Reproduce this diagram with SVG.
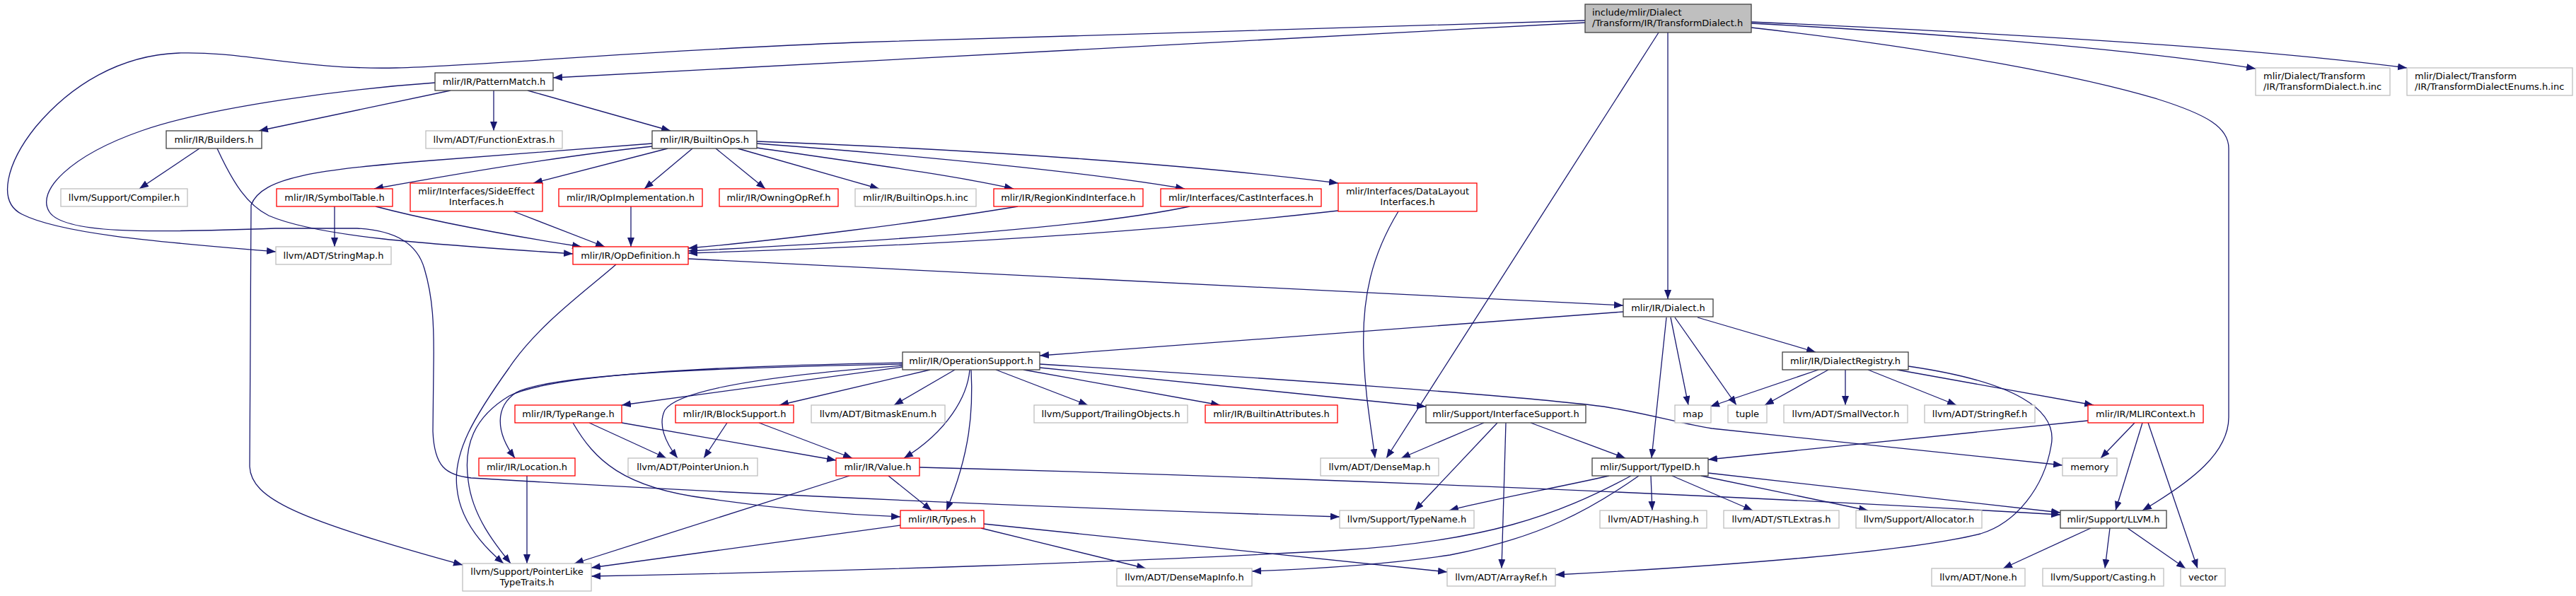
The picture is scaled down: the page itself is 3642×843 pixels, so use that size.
<svg xmlns="http://www.w3.org/2000/svg" width="3642" height="843" viewBox="0 0 3642 843">
<style>
rect{stroke-width:1.3}
.g rect{fill:#fff;stroke:#bfbfbf}
.b rect{fill:#fff;stroke:#404040}
.r rect{fill:#fff;stroke:#ff0000}
.t rect{fill:#bfbfbf;stroke:#404040}
text{font-family:"DejaVu Sans","Liberation Sans",sans-serif;font-size:13px;fill:#000;text-anchor:middle}
text.l{text-anchor:start}
#edges path{fill:none;stroke:#191970;stroke-width:1.3;marker-end:url(#a)}
</style>
<defs>
<marker id="a" markerUnits="userSpaceOnUse" markerWidth="14" markerHeight="11" refX="13" refY="5" orient="auto">
<path d="M0,0 L13,5 L0,10 z" fill="#191970"/>
</marker>
</defs>
<rect width="3642" height="843" fill="#fff"/>
<g id="edges">
<path d="M2241,32 L782,110"/>
<path d="M2241,29 L1210,60 C900,72 700,92 560,96 C430,99 340,72 253,75 C170,78 100,120 50,180 C10,230 -5,285 31,303 C90,333 250,344 390,356"/>
<path d="M2345,46 L1960,648"/>
<path d="M2358,46 L2358,423"/>
<path d="M2476,33 C2800,50 3050,75 3189,97"/>
<path d="M2476,31 C2900,50 3200,70 3403,96"/>
<path d="M2476,39 C2750,70 2950,110 3050,140 C3120,162 3151,180 3151,210 L3151,590 C3151,640 3100,680 3029,722"/>
<path d="M637,128 L366,185"/>
<path d="M698,128 L698,185"/>
<path d="M746,128 L948,185"/>
<path d="M615,117 C500,125 300,150 200,185 C100,220 50,270 70,300 C90,330 200,330 389,323 L505,323 C560,326 590,345 600,380 C612,420 614,460 613,520 L612,610 C614,660 630,672 666,676 C900,690 1300,712 1894,731"/>
<path d="M282,210 L197,267"/>
<path d="M307,210 C330,260 350,290 380,305 C450,335 600,345 810,359"/>
<path d="M922,203 L610,227 C450,240 370,250 355,290 L353,660 C355,705 420,735 654,799"/>
<path d="M922,207 C800,220 650,245 529,267"/>
<path d="M944,210 L754,259"/>
<path d="M979,210 L911,267"/>
<path d="M1012,210 L1082,267"/>
<path d="M1043,210 L1243,267"/>
<path d="M1070,209 C1200,228 1350,248 1433,267"/>
<path d="M1070,203 C1300,220 1550,245 1675,267"/>
<path d="M1070,200 C1400,212 1700,235 1892,259"/>
<path d="M726,299 L855,349"/>
<path d="M892,292 L892,349"/>
<path d="M531,292 C600,310 700,330 822,349"/>
<path d="M473,292 L473,349"/>
<path d="M1439,292 C1300,315 1100,340 973,351"/>
<path d="M1682,292 C1550,320 1300,338 973,355"/>
<path d="M1892,298 C1700,320 1400,345 973,358"/>
<path d="M1977,299 C1940,360 1925,420 1928,500 C1930,560 1938,600 1944,648"/>
<path d="M973,366 L2295,432"/>
<path d="M871,374 C830,410 760,460 720,520 C670,590 640,640 646,690 C650,735 680,770 712,797"/>
<path d="M1276,513 C1000,518 780,530 720,560 C670,590 655,630 662,680 C668,730 700,770 722,797"/>
<path d="M1276,515 C1000,520 780,530 730,555 C700,575 700,610 728,648"/>
<path d="M1276,519 L879,573"/>
<path d="M1276,517 C1100,530 960,550 940,580 C930,600 940,625 958,648"/>
<path d="M1315,523 L1102,573"/>
<path d="M1350,523 L1264,573"/>
<path d="M1371,523 C1368,560 1340,610 1278,648"/>
<path d="M1373,523 C1376,580 1372,640 1338,722"/>
<path d="M1408,523 L1538,573"/>
<path d="M1447,523 L1725,573"/>
<path d="M1470,520 L2016,575"/>
<path d="M1470,515 C1800,535 2150,560 2267,575 C2330,585 2380,600 2420,606 L2916,658"/>
<path d="M2295,441 L1470,503"/>
<path d="M2356,449 L2335,648"/>
<path d="M2362,449 L2387,573"/>
<path d="M2368,449 L2455,573"/>
<path d="M2400,449 L2567,498"/>
<path d="M2571,523 L2418,575"/>
<path d="M2585,523 L2495,573"/>
<path d="M2609,523 L2609,573"/>
<path d="M2641,523 L2766,573"/>
<path d="M2682,523 L2960,573"/>
<path d="M2698,518 C2850,540 2910,580 2900,630 C2890,690 2850,740 2800,755 C2700,780 2450,800 2199,813"/>
<path d="M2952,595 L2415,650"/>
<path d="M3018,598 L2970,648"/>
<path d="M3029,598 L2991,722"/>
<path d="M3037,598 L3107,804"/>
<path d="M2275,673 C2200,690 2100,708 2049,722"/>
<path d="M2334,673 L2336,722"/>
<path d="M2364,673 L2478,722"/>
<path d="M2405,673 L2641,722"/>
<path d="M2415,669 L2913,725"/>
<path d="M2317,673 C2250,720 2180,760 2050,785 C1950,800 1850,805 1770,808"/>
<path d="M2306,673 C2200,730 2100,765 1900,778 C1600,795 1200,808 836,815"/>
<path d="M1391,741 L2046,809"/>
<path d="M1387,747 L1620,804"/>
<path d="M1273,743 L836,803"/>
<path d="M1256,673 L1317,722"/>
<path d="M1201,673 L812,797"/>
<path d="M1300,661 C1800,674 2400,698 2913,728"/>
<path d="M833,598 L942,648"/>
<path d="M810,598 C840,650 880,690 1000,705 C1100,720 1200,728 1273,731"/>
<path d="M879,598 L1182,651"/>
<path d="M1028,598 L995,648"/>
<path d="M1073,598 L1205,648"/>
<path d="M745,673 L745,797"/>
<path d="M2098,598 L1981,648"/>
<path d="M2117,598 L2000,722"/>
<path d="M2129,598 L2123,804"/>
<path d="M2164,598 L2298,648"/>
<path d="M2956,747 L2832,804"/>
<path d="M2983,747 L2976,804"/>
<path d="M3008,747 L3090,804"/>
</g>
<g id="n_top" class="t"><rect x="2241" y="6" width="235" height="40"/><text class="l" x="2251" y="22">include/mlir/Dialect</text><text class="l" x="2251" y="37">/Transform/IR/TransformDialect.h</text></g>
<g id="n_pm" class="b"><rect x="615" y="103" width="167" height="25"/><text x="698.5" y="120">mlir/IR/PatternMatch.h</text></g>
<g id="n_bld" class="b"><rect x="235" y="185" width="135" height="25"/><text x="302.5" y="202">mlir/IR/Builders.h</text></g>
<g id="n_fe" class="g"><rect x="602" y="185" width="193" height="25"/><text x="698.5" y="202">llvm/ADT/FunctionExtras.h</text></g>
<g id="n_bo" class="b"><rect x="922" y="185" width="148" height="25"/><text x="996" y="202">mlir/IR/BuiltinOps.h</text></g>
<g id="n_cmp" class="g"><rect x="86" y="267" width="179" height="25"/><text x="175.5" y="284">llvm/Support/Compiler.h</text></g>
<g id="n_st" class="r"><rect x="391" y="267" width="164" height="25"/><text x="473" y="284">mlir/IR/SymbolTable.h</text></g>
<g id="n_se" class="r"><rect x="580" y="259" width="187" height="40"/><text x="673.5" y="275">mlir/Interfaces/SideEffect</text><text x="673.5" y="290">Interfaces.h</text></g>
<g id="n_oi" class="r"><rect x="790" y="267" width="203" height="25"/><text x="891.5" y="284">mlir/IR/OpImplementation.h</text></g>
<g id="n_oor" class="r"><rect x="1017" y="267" width="168" height="25"/><text x="1101" y="284">mlir/IR/OwningOpRef.h</text></g>
<g id="n_boi" class="g"><rect x="1209" y="267" width="171" height="25"/><text x="1294.5" y="284">mlir/IR/BuiltinOps.h.inc</text></g>
<g id="n_rki" class="r"><rect x="1405" y="267" width="211" height="25"/><text x="1510.5" y="284">mlir/IR/RegionKindInterface.h</text></g>
<g id="n_ci" class="r"><rect x="1641" y="267" width="227" height="25"/><text x="1754.5" y="284">mlir/Interfaces/CastInterfaces.h</text></g>
<g id="n_dl" class="r"><rect x="1892" y="259" width="196" height="40"/><text x="1990" y="275">mlir/Interfaces/DataLayout</text><text x="1990" y="290">Interfaces.h</text></g>
<g id="n_sm" class="g"><rect x="390" y="349" width="163" height="25"/><text x="471.5" y="366">llvm/ADT/StringMap.h</text></g>
<g id="n_od" class="r"><rect x="810" y="349" width="163" height="25"/><text x="891.5" y="366">mlir/IR/OpDefinition.h</text></g>
<g id="n_tdinc" class="g"><rect x="3189" y="96" width="190" height="39"/><text class="l" x="3200" y="112">mlir/Dialect/Transform</text><text class="l" x="3200" y="127">/IR/TransformDialect.h.inc</text></g>
<g id="n_tde" class="g"><rect x="3403" y="96" width="234" height="39"/><text class="l" x="3414" y="112">mlir/Dialect/Transform</text><text class="l" x="3414" y="127">/IR/TransformDialectEnums.h.inc</text></g>
<g id="n_di" class="b"><rect x="2295" y="423" width="127" height="25"/><text x="2358.5" y="440">mlir/IR/Dialect.h</text></g>
<g id="n_os" class="b"><rect x="1276" y="498" width="194" height="25"/><text x="1373" y="515">mlir/IR/OperationSupport.h</text></g>
<g id="n_dr" class="b"><rect x="2520" y="498" width="178" height="25"/><text x="2609" y="515">mlir/IR/DialectRegistry.h</text></g>
<g id="n_tr" class="r"><rect x="728" y="573" width="151" height="25"/><text x="803.5" y="590">mlir/IR/TypeRange.h</text></g>
<g id="n_bs" class="r"><rect x="955" y="573" width="167" height="25"/><text x="1038.5" y="590">mlir/IR/BlockSupport.h</text></g>
<g id="n_be" class="g"><rect x="1147" y="573" width="189" height="25"/><text x="1241.5" y="590">llvm/ADT/BitmaskEnum.h</text></g>
<g id="n_to" class="g"><rect x="1462" y="573" width="217" height="25"/><text x="1570.5" y="590">llvm/Support/TrailingObjects.h</text></g>
<g id="n_ba" class="r"><rect x="1704" y="573" width="187" height="25"/><text x="1797.5" y="590">mlir/IR/BuiltinAttributes.h</text></g>
<g id="n_is" class="b"><rect x="2016" y="573" width="226" height="25"/><text x="2129" y="590">mlir/Support/InterfaceSupport.h</text></g>
<g id="n_map" class="g"><rect x="2368" y="573" width="51" height="25"/><text x="2393.5" y="590">map</text></g>
<g id="n_tup" class="g"><rect x="2443" y="573" width="55" height="25"/><text x="2470.5" y="590">tuple</text></g>
<g id="n_sv" class="g"><rect x="2522" y="573" width="175" height="25"/><text x="2609.5" y="590">llvm/ADT/SmallVector.h</text></g>
<g id="n_sr" class="g"><rect x="2721" y="573" width="156" height="25"/><text x="2799" y="590">llvm/ADT/StringRef.h</text></g>
<g id="n_mc" class="r"><rect x="2952" y="573" width="163" height="25"/><text x="3033.5" y="590">mlir/IR/MLIRContext.h</text></g>
<g id="n_loc" class="r"><rect x="677" y="648" width="136" height="25"/><text x="745" y="665">mlir/IR/Location.h</text></g>
<g id="n_pu" class="g"><rect x="888" y="648" width="183" height="25"/><text x="979.5" y="665">llvm/ADT/PointerUnion.h</text></g>
<g id="n_val" class="r"><rect x="1182" y="648" width="118" height="25"/><text x="1241" y="665">mlir/IR/Value.h</text></g>
<g id="n_dm" class="g"><rect x="1867" y="648" width="167" height="25"/><text x="1950.5" y="665">llvm/ADT/DenseMap.h</text></g>
<g id="n_tid" class="b"><rect x="2251" y="648" width="164" height="25"/><text x="2333" y="665">mlir/Support/TypeID.h</text></g>
<g id="n_mem" class="g"><rect x="2916" y="648" width="77" height="25"/><text x="2954.5" y="665">memory</text></g>
<g id="n_ty" class="r"><rect x="1273" y="722" width="118" height="25"/><text x="1332" y="739">mlir/IR/Types.h</text></g>
<g id="n_tn" class="g"><rect x="1894" y="722" width="190" height="25"/><text x="1989" y="739">llvm/Support/TypeName.h</text></g>
<g id="n_hs" class="g"><rect x="2262" y="722" width="151" height="25"/><text x="2337.5" y="739">llvm/ADT/Hashing.h</text></g>
<g id="n_stl" class="g"><rect x="2437" y="722" width="163" height="25"/><text x="2518.5" y="739">llvm/ADT/STLExtras.h</text></g>
<g id="n_al" class="g"><rect x="2624" y="722" width="178" height="25"/><text x="2713" y="739">llvm/Support/Allocator.h</text></g>
<g id="n_ll" class="b"><rect x="2913" y="722" width="150" height="25"/><text x="2988" y="739">mlir/Support/LLVM.h</text></g>
<g id="n_plt" class="g"><rect x="654" y="797" width="182" height="39"/><text x="745" y="813">llvm/Support/PointerLike</text><text x="745" y="828">TypeTraits.h</text></g>
<g id="n_dmi" class="g"><rect x="1579" y="804" width="191" height="25"/><text x="1674.5" y="821">llvm/ADT/DenseMapInfo.h</text></g>
<g id="n_ar" class="g"><rect x="2046" y="804" width="153" height="25"/><text x="2122.5" y="821">llvm/ADT/ArrayRef.h</text></g>
<g id="n_none" class="g"><rect x="2731" y="804" width="132" height="25"/><text x="2797" y="821">llvm/ADT/None.h</text></g>
<g id="n_cast" class="g"><rect x="2888" y="804" width="171" height="25"/><text x="2973.5" y="821">llvm/Support/Casting.h</text></g>
<g id="n_vec" class="g"><rect x="3083" y="804" width="63" height="25"/><text x="3114.5" y="821">vector</text></g>
</svg>
